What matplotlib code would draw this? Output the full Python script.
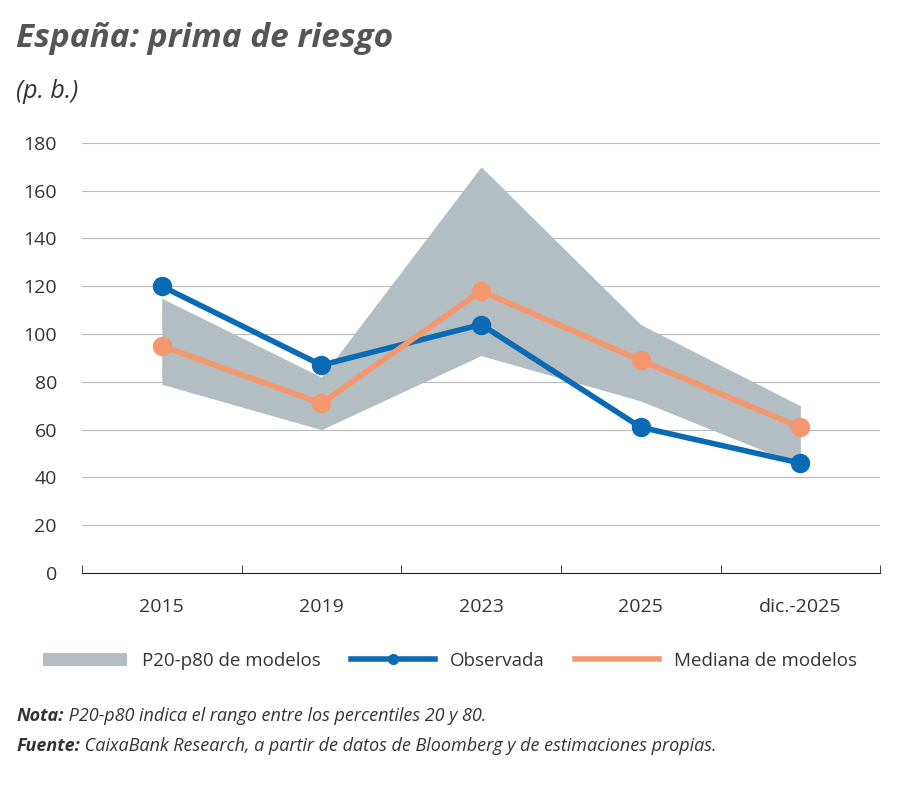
import numpy as np
import matplotlib
matplotlib.use('Agg')
import matplotlib.pyplot as plt
from matplotlib.lines import Line2D
from matplotlib.patches import Patch

plt.rcParams['font.family'] = ['Open Sans', 'DejaVu Sans']

categorias = ['2015', '2019', '2023', '2025', 'dic.-2025']
p20 = [79, 60, 91, 72, 45]
p80 = [115, 82, 170, 104, 70]
observada = [120, 87, 104, 61, 46]
mediana = [95, 71, 118, 89, 61]

AZUL = '#0a6ab3'
NARANJA = '#f4976c'
GRIS = '#b2bec2'
TXT = '#333333'

fig = plt.figure(figsize=(9, 7.85), dpi=100)
ax = fig.add_axes([0.091, 0.27, 0.887, 0.548])
x = np.arange(len(categorias))

ax.fill_between(x, p20, p80, color=GRIS, lw=0)
ax.plot(x, observada, color=AZUL, lw=4, marker='o', ms=13, zorder=3)
ax.plot(x, mediana, color=NARANJA, lw=4, marker='o', ms=13, zorder=4)

ax.set_xlim(-0.5, 4.5)
ax.set_ylim(0, 180)
ax.set_yticks(range(0, 181, 20))
ax.grid(axis='y', color='#bbbbbb', lw=0.8)
ax.set_axisbelow(True)
for s in ['top', 'right', 'left']:
    ax.spines[s].set_visible(False)
ax.spines['bottom'].set_color('#222222')
ax.tick_params(axis='y', length=0, labelsize=14, labelcolor=TXT, pad=18)
ax.set_xticks(x)
ax.set_xticklabels(categorias)
ax.tick_params(axis='x', which='major', length=0, labelsize=14, labelcolor=TXT, pad=18)
ax.set_xticks(np.arange(-0.5, 4.6, 1), minor=True)
ax.tick_params(axis='x', which='minor', length=6, direction='in', color='#222222')

handles = [Patch(color=GRIS, lw=0),
           Line2D([], [], color=AZUL, lw=4, marker='o', ms=7),
           Line2D([], [], color=NARANJA, lw=4)]
labels = ['P20-p80 de modelos', 'Observada', 'Mediana de modelos']
fig.legend(handles, labels, loc='center', bbox_to_anchor=(0.5, 0.158), ncol=3, frameon=False,
           fontsize=13.5, handlelength=4.5, columnspacing=1.6, labelcolor=TXT)

fig.text(0.018, 0.94, 'España: prima de riesgo', fontsize=24, fontweight='bold',
         style='italic', color='#555555')
fig.text(0.018, 0.875, '(p. b.)', fontsize=18, style='italic', color=TXT)

renderer = fig.canvas.get_renderer()
for y, head, rest in [(0.082, 'Nota:', ' P20-p80 indica el rango entre los percentiles 20 y 80.'),
                      (0.043, 'Fuente:', ' CaixaBank Research, a partir de datos de Bloomberg y de estimaciones propias.')]:
    t = fig.text(0.018, y, head, fontsize=13, style='italic', fontweight='bold', color=TXT)
    bb = t.get_window_extent(renderer)
    x1 = bb.x1 / fig.bbox.width
    fig.text(x1, y, rest, fontsize=13, style='italic', color=TXT)

fig.savefig('out.png', dpi=100)
